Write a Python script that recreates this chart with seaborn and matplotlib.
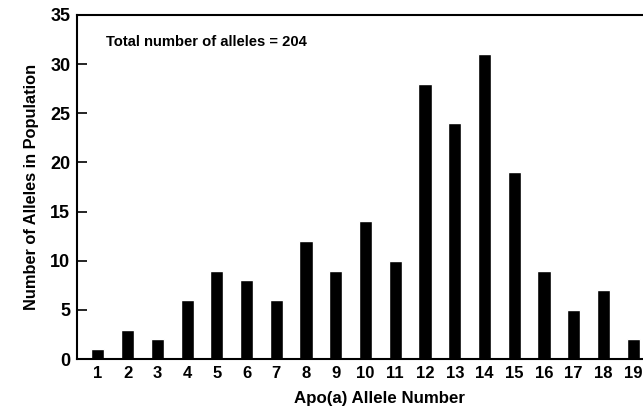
import matplotlib
matplotlib.use("Agg")
import matplotlib.pyplot as plt
import seaborn as sns
import pandas as pd

# apo(a) allele number vs count in population
alleles = [str(i) for i in range(1, 20)]
counts = [1, 3, 2, 6, 9, 8, 6, 12, 9, 14, 10, 28, 24, 31, 19, 9, 5, 7, 2]
y_ticks = [0, 5, 10, 15, 20, 25, 30, 35]
note = "Total number of alleles = 204"

sns.set_style("white")
plt.rcParams['font.family'] = ['Liberation Sans', 'DejaVu Sans']
plt.rcParams.update({"text.color": "black", "axes.labelcolor": "black",
                     "xtick.color": "black", "ytick.color": "black"})

df = pd.DataFrame({"allele": alleles, "count": counts})

fig = plt.figure(figsize=(6.43, 4.12), dpi=100)
ax = fig.add_axes([0.1202, 0.1286, 0.897, 0.835])

sns.barplot(data=df, x="allele", y="count", color="black", saturation=1,
            width=0.44, ax=ax)

ax.set_xlim(-0.69, 18.7)
ax.set_ylim(0, 35)
ax.set_yticks(y_ticks)
ax.set_yticklabels([str(t) for t in y_ticks], fontsize=13, fontweight="bold")
ax.tick_params(axis="y", direction="in", length=7, width=1.2, pad=5, left=True)
ax.tick_params(axis="x", length=0, pad=5, labelsize=12)
for lab in ax.get_xticklabels():
    lab.set_fontweight("bold")

for side in ["left", "bottom", "top", "right"]:
    ax.spines[side].set_visible(True)
    ax.spines[side].set_color("black")
    ax.spines[side].set_linewidth(1.5)

ax.set_xlabel("")
ax.set_ylabel("Number of Alleles in Population", fontsize=11.8, fontweight="bold", labelpad=8)
fig.text(379 / 643, 1 - 398 / 412, "Apo(a) Allele Number", ha="center", va="center",
         fontsize=12.2, fontweight="bold")

ax.text(106 / 643, 1 - 42 / 412, note, transform=fig.transFigure, ha="left", va="center",
        fontsize=10.6, fontweight="bold")

fig.savefig("out.png", dpi=100)
